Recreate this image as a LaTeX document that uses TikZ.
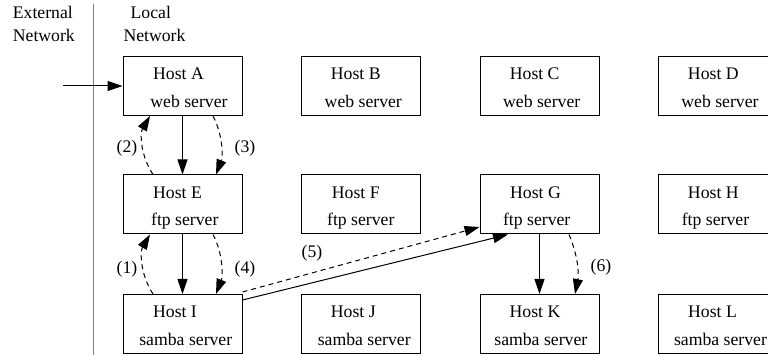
\documentclass[tikz,border=0pt]{standalone}
\usepackage{fontspec}
\setmainfont{Liberation Serif}
\usetikzlibrary{arrows.meta}
\begin{document}
\begin{tikzpicture}[x=1pt,y=-1pt,
  every node/.style={font=\fontsize{17.7}{20}\selectfont, inner sep=0pt},
  hostbox/.style={draw=black, line width=1pt, minimum width=119pt, minimum height=59pt, inner sep=0pt},
  lbl/.style={anchor=base},
  conn/.style={line width=1pt, -{Triangle[length=15pt,width=10pt]}},
  dconn/.style={conn, dash pattern=on 5pt off 4pt}]
\useasboundingbox (0,0) rectangle (768,355);
\clip (0,0) rectangle (768,355);

% separator and headings
\coordinate (sepT) at (93,4);
\coordinate (sepB) at (93,355);
\draw[gray, line width=1pt] (sepT) -- (sepB);
\node[lbl, anchor=base west] (ext1) at (12.7,19) {External};
\node[lbl, anchor=base west] (ext2) at (12.7,41.7) {Network};
\node[lbl] (loc1) at (150.8,19) {Local};
\node[lbl] (loc2) at (154.5,41.7) {Network};

% boxes (centers)
\node[hostbox] (A) at (182.5,86) {};
\node[hostbox] (B) at (361,86) {};
\node[hostbox] (C) at (539.5,86) {};
\node[hostbox] (D) at (718,86) {};
\node[hostbox] (E) at (182.5,204.5) {};
\node[hostbox] (F) at (361,204.5) {};
\node[hostbox] (G) at (539.5,204.5) {};
\node[hostbox] (H) at (718,204.5) {};
\node[hostbox] (I) at (182.5,324) {};
\node[hostbox] (J) at (361,324) {};
\node[hostbox] (K) at (539.5,324) {};
\node[hostbox] (L) at (718,324) {};

% texts row 1 (top 56)
\node[lbl] (tA1) at (178.5,79.5) {Host A};
\node[lbl] (tA2) at (189,108) {web server};
\node[lbl] (tB1) at (355.8,79.5) {Host B};
\node[lbl] (tB2) at (363.3,108) {web server};
\node[lbl] (tC1) at (534.7,79.5) {Host C};
\node[lbl] (tC2) at (541.7,108) {web server};
\node[lbl] (tD1) at (713.3,79.5) {Host D};
\node[lbl] (tD2) at (720,108) {web server};
% row 2 (top 175)
\node[lbl] (tE1) at (177.5,198.5) {Host E};
\node[lbl] (tE2) at (184.8,226) {ftp server};
\node[lbl] (tF1) at (355.8,198.5) {Host F};
\node[lbl] (tF2) at (360.8,226) {ftp server};
\node[lbl] (tG1) at (535.5,198.5) {Host G};
\node[lbl] (tG2) at (536.7,226) {ftp server};
\node[lbl] (tH1) at (713.3,198.5) {Host H};
\node[lbl] (tH2) at (715.5,226) {ftp server};
% row 3 (top 295)
\node[lbl] (tI1) at (175,317.5) {Host I};
\node[lbl] (tI2) at (185.8,345.5) {samba server};
\node[lbl] (tJ1) at (353.3,317.5) {Host J};
\node[lbl] (tJ2) at (364.2,345.5) {samba server};
\node[lbl] (tK1) at (535,317.5) {Host K};
\node[lbl] (tK2) at (540.8,345.5) {samba server};
\node[lbl] (tL1) at (712.5,317.5) {Host L};
\node[lbl] (tL2) at (720.5,345.5) {samba server};

% incoming arrow
\coordinate (inA) at (63,86);
\draw[conn] (inA) -- (A.west |- inA);

% A <-> E
\draw[conn] (A.south) -- (E.north);
\draw[dconn] ([xshift=-29.5pt]E.north) .. controls +(-13,-20) and +(-10,17) .. ([xshift=-32.5pt]A.south);
\draw[dconn] ([xshift=30.5pt]A.south) .. controls +(10,19) and +(7,-18) .. ([xshift=33.5pt]E.north);
\node[lbl] (l2) at (127,153) {(2)};
\node[lbl] (l3) at (245,153) {(3)};

% E <-> I
\draw[conn] (E.south) -- (I.north);
\draw[dconn] ([xshift=-29.5pt]I.north) .. controls +(-13,-20) and +(-10,17) .. ([xshift=-32.5pt]E.south);
\draw[dconn] ([xshift=30.5pt]E.south) .. controls +(10,19) and +(7,-18) .. ([xshift=33.5pt]I.north);
\node[lbl] (l1) at (127,273) {(1)};
\node[lbl] (l4) at (245,273) {(4)};

% I -> G
\draw[dconn] ([yshift=2pt]I.north east) -- ([yshift=7.5pt]G.south west);
\draw[conn] ([yshift=-6pt]I.north east) -- ([xshift=-31.5pt]G.south);
\node[lbl] (l5) at (312,258) {(5)};

% G -> K
\draw[conn] (G.south) -- (K.north);
\draw[dconn] ([xshift=29.5pt]G.south) .. controls +(9,21) and +(4,-20) .. ([xshift=35.5pt]K.north);
\node[lbl] (l6) at (601,272) {(6)};
\end{tikzpicture}
\end{document}
